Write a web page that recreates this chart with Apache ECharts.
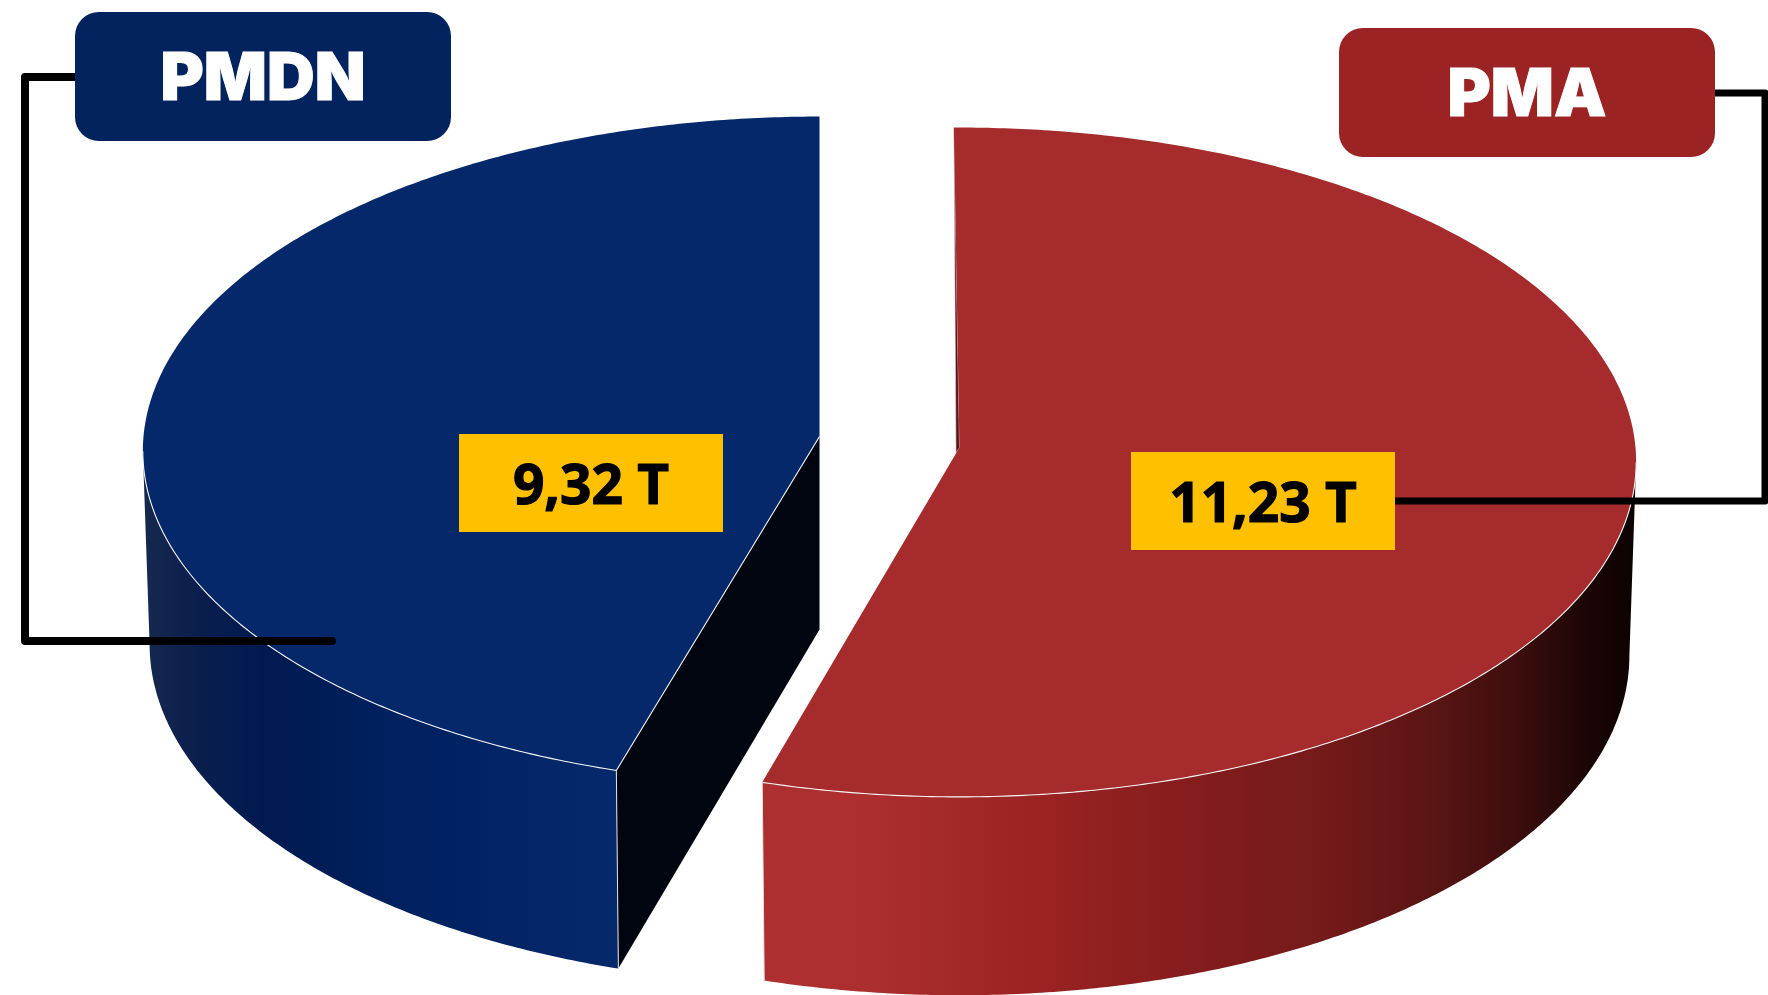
<!DOCTYPE html>
<html>
<head>
<meta charset="utf-8">
<title>PMDN PMA</title>
<script src="https://cdn.jsdelivr.net/npm/echarts@6/dist/echarts.min.js"></script>
<style>
  html, body { margin: 0; padding: 0; background: #fff; }
  #chart { width: 1768px; height: 995px; }
</style>
</head>
<body>
<div id="chart"></div>
<script>
// chart data
const categories = ["PMDN", "PMA"];
const values = [9.32, 11.23];
const valueLabels = ["9,32 T", "11,23 T"];

// where each exploded slice sits on the page, angles are clockwise from 12 o'clock
const sliceViews = [
  { cx: 819.5, cy: 436.5, endAngle: 360 },
  { cx: 959.5, cy: 447.5, startAngle: -0.5 },
];
const radiusX = 676;
const radiusY = 334;
const perspective = 0.044; // front of the disc is closer to the viewer
const depth = 193;
const floorScale = 0.99;

const sliceTop = ["#05286b", "#a52b2c"];
const wallStops = [
  [[146, "#15294f"], [190, "#0c1f4d"], [263, "#001a50"], [397, "#00205f"], [618, "#06296b"]],
  [[763, "#ae2f2f"], [872, "#ac2e2e"], [1041, "#9a2222"], [1209, "#821c1c"], [1322, "#751a1a"], [1434, "#5a1414"], [1518, "#3c0d0d"], [1591, "#1a0505"], [1636, "#0c0202"]],
];

// label boxes and their leader lines
const nameBoxes = [
  { x: 75, y: 12, width: 376, height: 129, color: "#03235f" },
  { x: 1339, y: 28, width: 376, height: 129, color: "#9b2323" },
];
const valueBoxes = [
  { x: 459, y: 434, width: 264, height: 98 },
  { x: 1131, y: 452, width: 264, height: 98 },
];
const leaders = [
  { width: 8, points: [[75, 77], [25, 77], [25, 641], [332, 641]] },
  { width: 7, points: [[1715, 93], [1765, 93], [1765, 501], [1395, 501]] },
];

const total = values.reduce((a, b) => a + b, 0);
const rad = (deg) => (deg * Math.PI) / 180;

// front of the rim runs between these two angles (the widest points of the ellipse)
const frontFrom = 90 + (Math.asin(perspective) * 180) / Math.PI;
const frontTo = 360 - frontFrom;

function sliceAngles(i) {
  const view = sliceViews[i];
  const sweep = (values[i] / total) * 360;
  if (view.endAngle !== undefined) return [view.endAngle - sweep, view.endAngle];
  return [view.startAngle, view.startAngle + sweep];
}

function project(view, angle, r, floor) {
  const X = Math.sin(rad(angle)) * r;
  const Y = -Math.cos(rad(angle)) * r;
  const w = 1 - perspective * Y;
  const s = floor ? floorScale : 1;
  return [
    view.cx + (radiusX * X * s) / w,
    view.cy + (radiusY * Y * s + (floor ? depth : 0)) / w,
  ];
}

function rim(view, from, to, floor) {
  const pts = [];
  const steps = Math.ceil(Math.abs(to - from) * 2);
  for (let k = 0; k <= steps; k++) {
    pts.push(project(view, from + ((to - from) * k) / steps, 1, floor));
  }
  return pts;
}

function renderSlice(params, api) {
  const i = params.dataIndex;
  const view = sliceViews[i];
  const [a0, a1] = sliceAngles(i);
  const wallFrom = Math.max(a0, frontFrom);
  const wallTo = Math.min(a1, frontTo);
  const apex = project(view, 0, 0, false);
  const apexFloor = project(view, 0, 0, true);
  const corner = project(view, i === 0 ? a0 : a1, 1, false);
  const cornerFloor = project(view, i === 0 ? a0 : a1, 1, true);
  const stops = wallStops[i];
  const x0 = stops[0][0];
  const x1 = stops[stops.length - 1][0];
  const children = [];

  // outer wall
  children.push({
    type: "polygon",
    shape: { points: rim(view, wallFrom, wallTo, false).concat(rim(view, wallTo, wallFrom, true)) },
    style: {
      fill: new echarts.graphic.LinearGradient(
        x0, 0, x1, 0,
        stops.map((s) => ({ offset: (s[0] - x0) / (x1 - x0), color: s[1] })),
        true
      ),
    },
  });

  if (i === 0) {
    // cut face seen through the gap between the slices
    children.push({
      type: "polygon",
      shape: { points: [apex, corner, cornerFloor, apexFloor] },
      style: { fill: "#000510" },
    });
  } else {
    // hairline of the back wall next to the 12 o'clock edge
    const back = project(view, a0, 1, false);
    children.push({
      type: "polygon",
      shape: { points: [back, [apex[0] - 3.5, apex[1] + 6], apex] },
      style: { fill: "#5a1616", stroke: "#e9d6d6", lineWidth: 0.6 },
    });
  }

  // top face
  children.push({
    type: "polygon",
    shape: { points: [apex].concat(rim(view, a0, a1, false)) },
    style: { fill: sliceTop[i] },
  });

  // thin white highlights
  children.push({
    type: "polyline",
    shape: { points: rim(view, wallFrom, wallTo, false) },
    style: { stroke: "#f4f4f4", lineWidth: 1.1, fill: null },
  });
  children.push({
    type: "line",
    shape: { x1: corner[0], y1: corner[1], x2: cornerFloor[0], y2: cornerFloor[1] },
    style: { stroke: "#dfe3ea", lineWidth: 1 },
  });
  if (i === 0) {
    children.push({
      type: "line",
      shape: { x1: apex[0], y1: apex[1], x2: corner[0], y2: corner[1] },
      style: { stroke: "#f4f4f4", lineWidth: 1.1 },
    });
  }

  return { type: "group", children };
}

function renderCallout(params, api) {
  const i = params.dataIndex;
  const name = nameBoxes[i];
  const box = valueBoxes[i];
  return {
    type: "group",
    children: [
      {
        type: "polyline",
        shape: { points: leaders[i].points },
        style: { stroke: "#000", lineWidth: leaders[i].width, fill: null, lineJoin: "round", lineCap: "round" },
      },
      {
        type: "rect",
        shape: { x: name.x, y: name.y, width: name.width, height: name.height, r: 24 },
        style: { fill: name.color },
      },
      {
        type: "text",
        style: {
          text: categories[i],
          x: name.x + name.width / 2,
          y: name.y + name.height / 2 + 3.5,
          align: "center",
          verticalAlign: "middle",
          fill: "#fff",
          stroke: "#fff",
          lineWidth: 1,
          font: '900 66px Inter, "Liberation Sans", sans-serif',
        },
      },
      {
        type: "rect",
        shape: { x: box.x, y: box.y, width: box.width, height: box.height },
        style: { fill: "#ffc000" },
      },
      {
        type: "text",
        style: {
          text: valueLabels[i],
          x: box.x + box.width / 2,
          y: box.y + box.height / 2 + 5,
          align: "center",
          verticalAlign: "middle",
          fill: "#000",
          stroke: "#000",
          lineWidth: 1.2,
          font: '700 55px "Open Sans", sans-serif',
        },
      },
    ],
  };
}

const chart = echarts.init(document.getElementById("chart"), null, { renderer: "canvas" });
chart.setOption({
  animation: false,
  backgroundColor: "#fff",
  series: [
    { type: "custom", coordinateSystem: "none", silent: true, z: 1, data: values, renderItem: renderSlice },
    { type: "custom", coordinateSystem: "none", silent: true, z: 2, data: values, renderItem: renderCallout },
  ],
});
</script>
</body>
</html>
